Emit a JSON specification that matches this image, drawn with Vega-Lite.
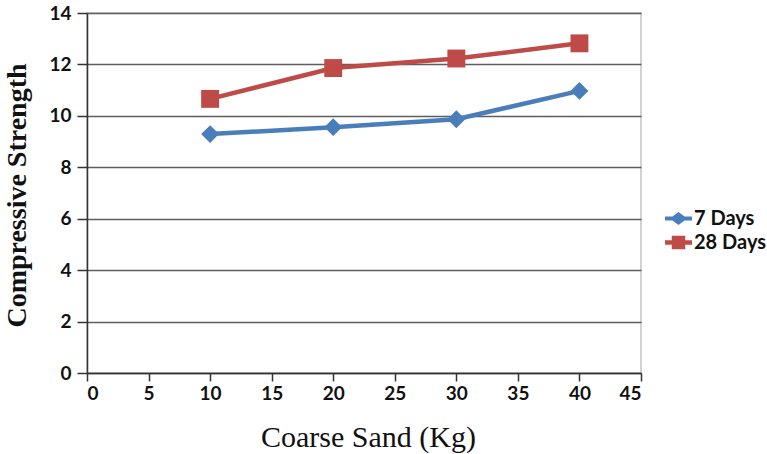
{
  "$schema": "https://vega.github.io/schema/vega-lite/v6.json",
  "width": 554,
  "height": 360,
  "autosize": {"type": "none"},
  "padding": {"left": 87, "top": 13, "right": 126, "bottom": 81},
  "background": "white",
  "config": {"view": {"stroke": "#c4c4c4", "strokeWidth": 1.5}},
  "data": {
    "values": [
      {"series": "7 Days", "sand": 10, "strength": 9.29},
      {"series": "7 Days", "sand": 20, "strength": 9.56},
      {"series": "7 Days", "sand": 30, "strength": 9.87},
      {"series": "7 Days", "sand": 40, "strength": 10.97},
      {"series": "28 Days", "sand": 10, "strength": 10.66},
      {"series": "28 Days", "sand": 20, "strength": 11.86},
      {"series": "28 Days", "sand": 30, "strength": 12.23},
      {"series": "28 Days", "sand": 40, "strength": 12.82}
    ]
  },
  "encoding": {
    "x": {
      "field": "sand", "type": "quantitative",
      "scale": {"domain": [0, 45], "nice": false},
      "axis": {
        "values": [0, 5, 10, 15, 20, 25, 30, 35, 40, 45],
        "grid": false,
        "domainColor": "#333", "domainWidth": 1.5,
        "tickColor": "#333", "tickWidth": 1.5, "tickSize": 8,
        "labelFont": "Lato", "labelFontWeight": "bold", "labelFontSize": 19, "labelColor": "#111",
        "labelPadding": 3,
        "title": "Coarse Sand (Kg)",
        "titleFont": "Liberation Serif", "titleFontSize": 30, "titleFontWeight": "normal", "titleColor": "#111",
        "titleBaseline": "middle", "titleY": 64, "titleX": 281
      }
    },
    "y": {
      "field": "strength", "type": "quantitative",
      "scale": {"domain": [0, 14], "nice": false},
      "axis": {
        "values": [0, 2, 4, 6, 8, 10, 12, 14],
        "grid": true, "gridColor": "#5e5e5e", "gridWidth": 1.5,
        "domainColor": "#333", "domainWidth": 1.5,
        "tickColor": "#333", "tickWidth": 1.5, "tickSize": 10,
        "labelFont": "Lato", "labelFontWeight": "bold", "labelFontSize": 19, "labelColor": "#111",
        "labelPadding": 6,
        "title": "Compressive Strength",
        "titleFont": "Liberation Serif", "titleFontSize": 28, "titleFontWeight": "bold", "titleColor": "#111",
        "titleAngle": 270, "titleBaseline": "middle", "titleAlign": "center",
        "titleX": -70, "titleY": 182
      }
    }
  },
  "layer": [
    {
      "mark": {"type": "line", "strokeWidth": 4.5},
      "encoding": {
        "color": {
          "field": "series", "type": "nominal",
          "scale": {"domain": ["7 Days", "28 Days"], "range": ["#4A7EBB", "#BE4B48"]},
          "legend": null
        }
      }
    },
    {
      "mark": {"type": "point", "filled": true, "opacity": 1, "size": 320},
      "encoding": {
        "color": {"field": "series", "type": "nominal", "legend": null},
        "shape": {
          "field": "series", "type": "nominal",
          "scale": {"domain": ["7 Days", "28 Days"], "range": ["diamond", "square"]},
          "legend": null
        }
      }
    },
    {
      "mark": {"type": "point", "filled": true, "opacity": 1, "size": 0},
      "encoding": {
        "color": {
          "field": "series", "type": "nominal",
          "legend": {
            "orient": "none", "legendX": 578, "legendY": 192,
            "title": null,
            "symbolSize": 729,
            "symbolOpacity": 1,
            "symbolStrokeWidth": 0,
            "labelFont": "Lato", "labelFontWeight": "bold", "labelFontSize": 20, "labelColor": "#111",
            "labelOffset": 2,
            "rowPadding": 0,
            "padding": 0
          }
        },
        "shape": {
          "field": "series", "type": "nominal",
          "scale": {"domain": ["7 Days", "28 Days"], "range": ["M-1,-0.14H-0.45L0,-0.48L0.45,-0.14H1V0.14H0.45L0,0.48L-0.45,0.14H-1Z", "M-1,-0.17H-0.5V-0.5H0.5V-0.17H1V0.17H0.5V0.5H-0.5V0.17H-1Z"]},
          "legend": {
            "orient": "none", "legendX": 578, "legendY": 192,
            "title": null,
            "symbolSize": 729,
            "symbolOpacity": 1,
            "symbolStrokeWidth": 0,
            "labelFont": "Lato", "labelFontWeight": "bold", "labelFontSize": 20, "labelColor": "#111",
            "labelOffset": 2,
            "rowPadding": 0,
            "padding": 0,
            "encode": {
              "symbols": {
                "update": {
                  "fill": {"signal": "datum.value === '7 Days' ? '#4A7EBB' : '#BE4B48'"}
                }
              }
            }
          }
        }
      }
    }
  ],
  "resolve": {"scale": {"shape": "independent"}, "legend": {"color": "independent"}}
}
